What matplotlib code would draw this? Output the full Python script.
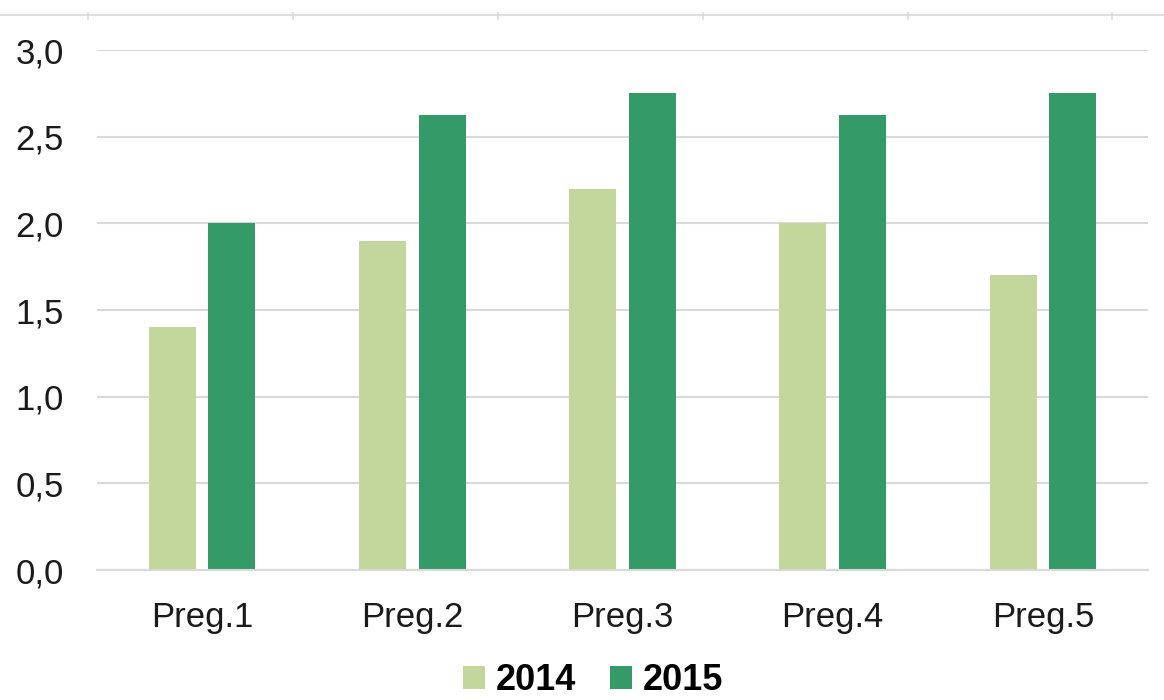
import matplotlib.pyplot as plt
from matplotlib.lines import Line2D
import numpy as np

plt.rcParams['font.family'] = ['Liberation Sans', 'DejaVu Sans']

categories = ["Preg.1", "Preg.2", "Preg.3", "Preg.4", "Preg.5"]
vals_2014 = [1.40, 1.90, 2.20, 2.00, 1.70]
vals_2015 = [2.00, 2.625, 2.75, 2.625, 2.75]
series_names = ["2014", "2015"]
y_ticks = [0.0, 0.5, 1.0, 1.5, 2.0, 2.5, 3.0]

light = "#C3D69B"
dark = "#349A67"
grid_col = "#D9D9D9"

W, H = 1164, 700
fig = plt.figure(figsize=(W / 100, H / 100), dpi=100)
ax = fig.add_axes([97 / W, 1 - 570 / H, 1051 / W, 520 / H])

x = np.arange(len(categories))
bw = 0.224
off = 0.142
ax.bar(x - off, vals_2014, bw, color=light, label=series_names[0], zorder=3)
ax.bar(x + off, vals_2015, bw, color=dark, label=series_names[1], zorder=3)

ax.set_xlim(-0.5, len(categories) - 0.5)
ax.set_ylim(0, 3.0)
ax.set_yticks(y_ticks)
ax.set_yticklabels([f"{v:.1f}".replace(".", ",") for v in y_ticks])
ax.set_xticks(x)
ax.set_xticklabels(categories)
ax.tick_params(axis="both", length=0, labelsize=25, colors="#1a1a1a")
ax.tick_params(axis="y", pad=24)
ax.tick_params(axis="x", pad=22)
for s in ax.spines.values():
    s.set_visible(False)
ax.yaxis.grid(True, color=grid_col, lw=1.5, zorder=0)
ax.set_axisbelow(True)
ax.axhline(0, color=grid_col, lw=1.5, zorder=4, clip_on=False)

# remnant of the chart above: thin line with small ticks
fig.add_artist(Line2D([0, 1], [1 - 15 / H] * 2, color=grid_col, lw=1.2))
for tx in [88, 293, 498, 703, 908, 1112]:
    fig.add_artist(Line2D([tx / W] * 2, [1 - 13 / H, 1 - 19 / H], color=grid_col, lw=1.2))

fig.legend(loc="center", bbox_to_anchor=(593 / W, 1 - 681 / H), ncol=2, frameon=False,
           prop={"weight": "bold", "size": 26}, handlelength=0.6, handleheight=0.6,
           handletextpad=0.3, columnspacing=0.95, borderaxespad=0, borderpad=0)

fig.savefig("out.png", dpi=100)
